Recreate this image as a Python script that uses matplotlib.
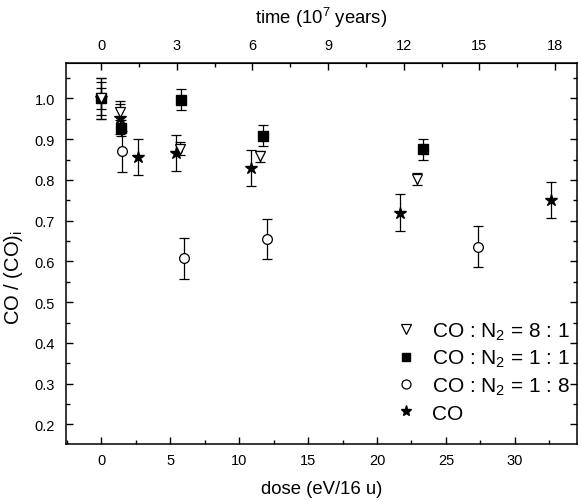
import matplotlib
matplotlib.use('Agg')
import matplotlib.pyplot as plt
from matplotlib.lines import Line2D
from matplotlib.ticker import MultipleLocator, FixedLocator

plt.rcParams['font.family'] = ['Liberation Sans', 'DejaVu Sans']
plt.rcParams['mathtext.fontset'] = 'custom'
plt.rcParams['mathtext.rm'] = 'Liberation Sans'

# CO : N2 = 8 : 1
tri_dose = [0.0, 1.4, 5.7, 11.5, 22.9]
tri_val = [1.0, 0.967, 0.877, 0.858, 0.802]
tri_err = [0.05, 0.02, 0.016, 0.014, 0.014]

# CO : N2 = 1 : 1
sq_dose = [0.0, 1.45, 5.8, 11.7, 23.3]
sq_val = [1.0, 0.927, 0.997, 0.909, 0.875]
sq_err = [0.025, 0.02, 0.025, 0.025, 0.025]

# CO : N2 = 1 : 8
circ_dose = [0.0, 1.5, 6.0, 12.0, 27.3]
circ_val = [1.0, 0.87, 0.608, 0.655, 0.636]
circ_err = [0.05, 0.05, 0.05, 0.05, 0.05]

# pure CO
star_dose = [0.0, 1.35, 2.7, 5.4, 10.85, 21.7, 32.6]
star_val = [1.0, 0.953, 0.856, 0.866, 0.83, 0.72, 0.751]
star_err = [0.04, 0.04, 0.045, 0.045, 0.044, 0.045, 0.045]

labels = ['CO : N$_2$ = 8 : 1', 'CO : N$_2$ = 1 : 1', 'CO : N$_2$ = 1 : 8', 'CO']
time_ticks = [0, 3, 6, 9, 12, 15, 18]

time_per_dose = 0.547  # 10^7 years per eV/16 u

fig = plt.figure(figsize=(5.82, 5.02), dpi=100)
ax = fig.add_axes([0.1134, 0.1145, 0.878, 0.758])

eb = dict(capsize=3.5, elinewidth=0.9, capthick=0.9, ecolor='black', linestyle='none')
ax.errorbar(circ_dose, circ_val, yerr=circ_err, fmt='o', ms=7, mfc='white', mec='black', mew=0.9, **eb)
ax.errorbar(star_dose, star_val, yerr=star_err, fmt='*', ms=9, mfc='black', mec='black', **eb)
ax.errorbar(sq_dose, sq_val, yerr=sq_err, fmt='s', ms=6.5, mfc='black', mec='black', **eb)
ax.errorbar(tri_dose, tri_val, yerr=tri_err, fmt='v', ms=7.5, mfc='white', mec='black', mew=0.9, **eb)

ax.set_xlim(-2.55, 34.5)
ax.set_ylim(0.153, 1.087)
ax.xaxis.set_major_locator(MultipleLocator(5))
ax.xaxis.set_minor_locator(MultipleLocator(2.5))
ax.yaxis.set_major_locator(MultipleLocator(0.1))
ax.yaxis.set_minor_locator(MultipleLocator(0.05))
ax.yaxis.set_major_formatter(plt.FormatStrFormatter('%.1f'))
ax.tick_params(which='both', direction='in', right=True, top=False, labelsize=10.5, width=1)
ax.tick_params(axis='x', which='major', length=5, pad=7)
ax.tick_params(axis='y', which='major', length=5, pad=8)
ax.tick_params(which='minor', length=3)
for s in ax.spines.values():
    s.set_linewidth(1.1)

ax.set_xlabel('dose (eV/16 u)', fontsize=13.3, labelpad=9)
ax.set_ylabel('CO / (CO)$_\\mathrm{i}$', fontsize=14.5)
ax.yaxis.set_label_coords(-0.08, 0.44)

top = ax.secondary_xaxis('top', functions=(lambda d: d * time_per_dose, lambda t: t / time_per_dose))
top.xaxis.set_major_locator(FixedLocator(time_ticks))
top.xaxis.set_minor_locator(FixedLocator([t + 1.5 for t in time_ticks]))
top.tick_params(which='both', direction='in', labelsize=10.5, width=1)
top.tick_params(which='major', length=5, pad=8)
top.tick_params(which='minor', length=3)
top.set_xlabel('time (10$^7$ years)', fontsize=13.3, labelpad=11)

handles = [
    Line2D([], [], marker='v', ls='none', ms=6.5, mfc='white', mec='black', mew=0.9),
    Line2D([], [], marker='s', ls='none', ms=6, mfc='black', mec='black'),
    Line2D([], [], marker='o', ls='none', ms=6.5, mfc='white', mec='black', mew=0.9),
    Line2D([], [], marker='*', ls='none', ms=8, mfc='black', mec='black'),
]
ax.legend(handles, labels, loc='lower right', bbox_to_anchor=(0.986, 0.055), frameon=False,
          fontsize=15, handlelength=1.0, handletextpad=0.75, labelspacing=0.3,
          borderpad=0, borderaxespad=0)

fig.savefig('out.png', dpi=100)
